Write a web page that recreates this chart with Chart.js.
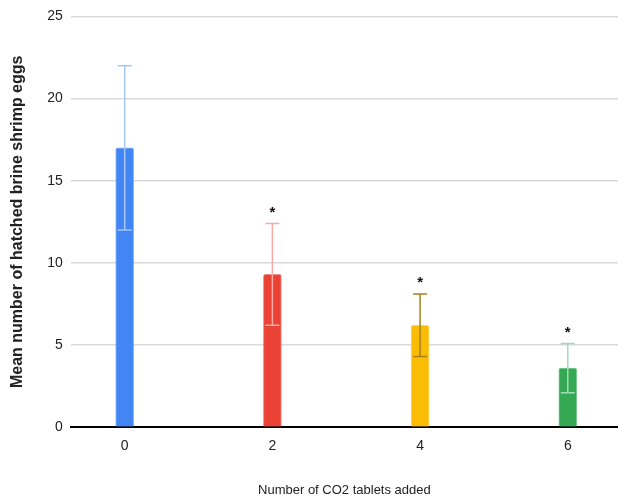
<!DOCTYPE html>
<html>
<head>
<meta charset="utf-8">
<script src="https://cdn.jsdelivr.net/npm/chart.js@4"></script>
<style>
  html, body { margin: 0; padding: 0; background: #fff; }
  #wrap { width: 618px; height: 497px; }
</style>
</head>
<body>
<div id="wrap"><canvas id="chart" width="618" height="497"></canvas></div>
<script>
// data
const tablets = [0, 2, 4, 6];
const meanEggs = [17, 9.3, 6.2, 3.6];
const errLow = [5, 3.1, 1.9, 1.5];
const errHigh = [5, 3.1, 1.9, 1.5];
const significant = [false, true, true, true];
const yTicks = [0, 5, 10, 15, 20, 25];

const barColors = ["#4285f4", "#ea4335", "#fbbc04", "#34a853"];
const errColors = ["#a8c5f8", "#f5aaa4", "#a8801c", "#a3dbb4"];

// error bars + asterisks
const errorBarPlugin = {
  id: "errorBars",
  afterDatasetsDraw(chart) {
    const ctx = chart.ctx;
    const xs = chart.scales.x;
    const ys = chart.scales.y;
    ctx.save();
    tablets.forEach(function (t, i) {
      const x = xs.getPixelForValue(t);
      const top = ys.getPixelForValue(meanEggs[i] + errHigh[i]);
      const bot = ys.getPixelForValue(meanEggs[i] - errLow[i]);
      ctx.strokeStyle = errColors[i];
      ctx.lineWidth = 1.5;
      ctx.beginPath();
      ctx.moveTo(x, top);
      ctx.lineTo(x, bot);
      ctx.moveTo(x - 7, top);
      ctx.lineTo(x + 7, top);
      ctx.moveTo(x - 7, bot);
      ctx.lineTo(x + 7, bot);
      ctx.stroke();
      if (significant[i]) {
        ctx.fillStyle = "#111";
        ctx.font = "bold 15px 'Liberation Sans', Arial, sans-serif";
        ctx.textAlign = "center";
        ctx.textBaseline = "middle";
        ctx.fillText("*", x, top - 11);
      }
    });
    ctx.restore();
  }
};

new Chart(document.getElementById("chart"), {
  type: "bar",
  data: {
    datasets: [
      {
        data: tablets.map(function (t, i) { return { x: t, y: meanEggs[i] }; }),
        backgroundColor: barColors,
        borderColor: barColors.map(function (c) { return c + "99"; }),
        borderWidth: 1,
        borderRadius: { topLeft: 2, topRight: 2 },
        borderSkipped: "bottom",
        barThickness: 18
      }
    ]
  },
  options: {
    responsive: false,
    animation: false,
    layout: { padding: { left: 8, right: 0, top: 11, bottom: 0 } },
    plugins: {
      legend: { display: false },
      tooltip: { enabled: false }
    },
    scales: {
      x: {
        type: "linear",
        offset: false,
        min: -0.73,
        max: 6.68,
        afterBuildTicks: function (scale) {
          scale.ticks = tablets.map(function (v) { return { value: v }; });
        },
        grid: { display: false },
        border: { display: true, color: "#000", width: 2 },
        ticks: {
          color: "#222",
          font: { family: "'Liberation Sans', Arial, sans-serif", size: 14 },
          padding: 3
        },
        title: {
          display: true,
          text: "Number of CO2 tablets added",
          color: "#222",
          font: { family: "'Liberation Sans', Arial, sans-serif", size: 13, lineHeight: 1 },
          padding: { top: 26, bottom: 0 }
        }
      },
      y: {
        min: 0,
        max: 25,
        afterBuildTicks: function (scale) {
          scale.ticks = yTicks.map(function (v) { return { value: v }; });
        },
        grid: { color: "#d9d9d9", lineWidth: 1.5, drawTicks: false },
        border: { display: false },
        ticks: {
          color: "#222",
          font: { family: "'Liberation Sans', Arial, sans-serif", size: 14 },
          padding: 8
        },
        title: {
          display: true,
          text: "Mean number of hatched brine shrimp eggs",
          color: "#222",
          font: { family: "'Liberation Sans', Arial, sans-serif", size: 16, weight: "bold" },
          padding: { top: 0, bottom: 12 }
        }
      }
    }
  },
  plugins: [errorBarPlugin]
});
</script>
</body>
</html>
